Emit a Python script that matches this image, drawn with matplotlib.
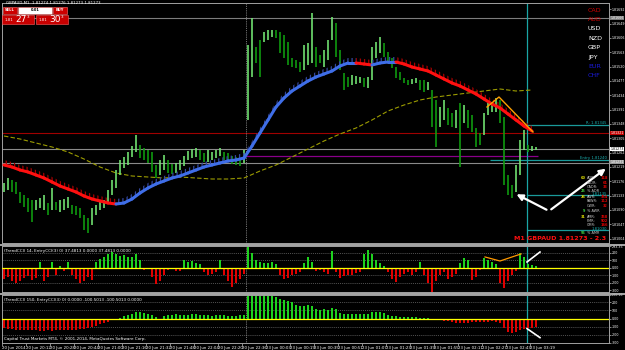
import numpy as np
import matplotlib.pyplot as plt
from matplotlib.patches import Rectangle

plt.rcParams['hatch.linewidth'] = 0.9

# ---- price bars (M1 GBPAUD), one value per bar ----
bar_hi = [1.81171, 1.81186, 1.81180, 1.81174, 1.81144, 1.81135, 1.81126, 1.81120, 1.81120, 1.81126,
          1.81135, 1.81111, 1.81156, 1.81114, 1.81120, 1.81123, 1.81129, 1.81105, 1.81102, 1.81096,
          1.81075, 1.81066, 1.81096, 1.81105, 1.81114, 1.81120, 1.81150, 1.81180, 1.81210, 1.81240,
          1.81249, 1.81264, 1.81282, 1.81315, 1.81285, 1.81276, 1.81270, 1.81264, 1.81225, 1.81240,
          1.81255, 1.81240, 1.81228, 1.81231, 1.81240, 1.81252, 1.81267, 1.81273, 1.81276, 1.81270,
          1.81261, 1.81270, 1.81264, 1.81270, 1.81276, 1.81264, 1.81261, 1.81252, 1.81249, 1.81246,
          1.81270, 1.81585, 1.81666, 1.81579, 1.81600, 1.81624, 1.81630, 1.81630, 1.81630, 1.81624,
          1.81615, 1.81594, 1.81546, 1.81540, 1.81534, 1.81585, 1.81591, 1.81681, 1.81579, 1.81555,
          1.81570, 1.81600, 1.81669, 1.81651, 1.81570, 1.81501, 1.81489, 1.81495, 1.81492, 1.81489,
          1.81486, 1.81489, 1.81579, 1.81594, 1.81609, 1.81591, 1.81564, 1.81546, 1.81519, 1.81504,
          1.81486, 1.81480, 1.81483, 1.81486, 1.81480, 1.81480, 1.81474, 1.81450, 1.81420, 1.81399,
          1.81420, 1.81396, 1.81381, 1.81390, 1.81411, 1.81405, 1.81390, 1.81375, 1.81336, 1.81321,
          1.81381, 1.81411, 1.81408, 1.81426, 1.81420, 1.81369, 1.81195, 1.81165, 1.81225, 1.81300,
          1.81330, 1.81285, 1.81282, 1.81279]
bar_lo = [1.81144, 1.81150, 1.81144, 1.81138, 1.81111, 1.81099, 1.81084, 1.81054, 1.81090, 1.81096,
          1.81090, 1.81075, 1.81090, 1.81090, 1.81084, 1.81090, 1.81096, 1.81078, 1.81075, 1.81066,
          1.81030, 1.81021, 1.81045, 1.81075, 1.81090, 1.81096, 1.81111, 1.81135, 1.81156, 1.81195,
          1.81216, 1.81225, 1.81249, 1.81264, 1.81246, 1.81240, 1.81231, 1.81204, 1.81186, 1.81195,
          1.81210, 1.81201, 1.81198, 1.81201, 1.81210, 1.81222, 1.81240, 1.81246, 1.81249, 1.81240,
          1.81234, 1.81234, 1.81240, 1.81246, 1.81252, 1.81240, 1.81237, 1.81228, 1.81225, 1.81222,
          1.81231, 1.81360, 1.81489, 1.81531, 1.81489, 1.81594, 1.81600, 1.81609, 1.81606, 1.81561,
          1.81546, 1.81525, 1.81519, 1.81516, 1.81504, 1.81510, 1.81525, 1.81531, 1.81519, 1.81531,
          1.81519, 1.81540, 1.81600, 1.81549, 1.81510, 1.81450, 1.81459, 1.81465, 1.81468, 1.81471,
          1.81459, 1.81456, 1.81480, 1.81546, 1.81561, 1.81549, 1.81531, 1.81516, 1.81486, 1.81480,
          1.81471, 1.81465, 1.81468, 1.81471, 1.81450, 1.81444, 1.81450, 1.81339, 1.81279, 1.81339,
          1.81360, 1.81345, 1.81339, 1.81336, 1.81219, 1.81351, 1.81336, 1.81324, 1.81279, 1.81285,
          1.81315, 1.81375, 1.81384, 1.81384, 1.81351, 1.81165, 1.81135, 1.81126, 1.81144, 1.81195,
          1.81270, 1.81264, 1.81267, 1.81270]

# fast MA (colour changing), read every 2nd bar
ma_fast = [1.81225, 1.81219, 1.81210, 1.81204, 1.81195, 1.81186, 1.81174, 1.81162, 1.81153, 1.81144,
           1.81132, 1.81123, 1.81117, 1.81111, 1.81108, 1.81111, 1.81123, 1.81141, 1.81156, 1.81168,
           1.81177, 1.81186, 1.81192, 1.81201, 1.81210, 1.81219, 1.81225, 1.81231, 1.81237, 1.81240,
           1.81246, 1.81282, 1.81321, 1.81360, 1.81399, 1.81426, 1.81447, 1.81462, 1.81477, 1.81489,
           1.81498, 1.81507, 1.81522, 1.81531, 1.81531, 1.81528, 1.81525, 1.81531, 1.81534, 1.81534,
           1.81528, 1.81519, 1.81513, 1.81507, 1.81495, 1.81483, 1.81471, 1.81462, 1.81450, 1.81438,
           1.81423, 1.81408, 1.81396, 1.81378, 1.81360, 1.81342, 1.81327]
# slow MA (olive dashed), read every 4th bar
ma_slow = [1.81312, 1.81303, 1.81291, 1.81279, 1.81264, 1.81243, 1.81219, 1.81201, 1.81192, 1.81189,
           1.81186, 1.81189, 1.81186, 1.81183, 1.81183, 1.81186, 1.81207, 1.81225, 1.81249, 1.81273,
           1.81297, 1.81318, 1.81336, 1.81360, 1.81387, 1.81405, 1.81420, 1.81429, 1.81435, 1.81441,
           1.81447, 1.81453, 1.81447, 1.81450]

# TrendCCI 14 and TrendCCI 150, one value per bar
cci14 = [-150, -120, -180, -200, -170, -140, -110, -160, -130, 80,
         -180, -120, 80, -100, 30, -40, 80, -100, -150, -200,
         -180, -120, -160, 80, 120, 150, 180, 210, 190, 160,
         170, 140, 150, 180, 100, -30, -20, -120, -220, -180,
         -100, -30, -20, -40, -40, 100, 80, 90, 70, 50,
         -50, -100, -80, -60, 100, -100, -180, -250, -200, -150,
         -80, 300, 200, 100, 80, 60, 70, 80, 50, -100,
         -150, -130, -100, -80, -60, 60, 150, 80, -40, -30,
         -50, -80, 230, -60, -130, -110, -100, -90, -70, -60,
         180, 240, 180, 100, 60, 30, -60, -150, -190, -120,
         -80, -60, -100, -50, 80, -100, -200, -320, -180, -100,
         -60, -150, -120, -80, 60, 130, 110, -160, -120, -30,
         130, 100, 80, 50, -200, -270, -180, -100, -40, 200,
         150, 50, 40, 30]
cci150 = [-120, -125, -130, -135, -140, -140, -145, -145, -145, -150,
          -150, -145, -150, -145, -140, -145, -140, -135, -140, -130,
          -125, -120, -100, -85, -70, -60, -40, -20, -10, 10,
          30, 45, 60, 80, 85, 70, 55, 40, 20, -10,
          30, 40, 50, 55, 45, 40, 50, 55, 60, 50,
          45, 40, 35, 45, 50, 40, 35, 30, 35, 45,
          40, 290, 285, 290, 280, 285, 275, 280, 270, 240,
          230, 220, 210, 170, 160, 150, 165, 150, 120, 110,
          115, 110, 130, 120, 70, 60, 60, 55, 60, 60,
          55, 60, 80, 85, 75, 70, 40, 35, 30, 25,
          20, 20, 15, 15, 10, 5, 5, -10, -20, -20,
          -25, -35, -40, -50, -55, -60, -55, -45, -40, -40,
          -45, -40, -35, -40, -50, -120, -170, -180, -160, -140,
          -130, -120, -110, -100]

# levels on the price chart
day_high = 1.81666
red_level = 1.81321
bid = 1.81273
purple_level = 1.81252
gray_level = 1.81231
teal_levels = [1.81345, 1.81240, 1.81135, 1.81030]
teal_names = ['R: 1.81345', 'Entry 1.81240', '1.81135', '1.81030']

time_labels = ['20 Jun 2014', '20 Jun 20:12', '20 Jun 20:28', '20 Jun 20:44', '20 Jun 21:00',
               '20 Jun 21:16', '20 Jun 21:32', '20 Jun 21:48', '20 Jun 22:04', '20 Jun 22:20',
               '20 Jun 22:36', '23 Jun 00:03', '23 Jun 00:19', '23 Jun 00:35', '23 Jun 00:51',
               '23 Jun 01:07', '23 Jun 01:23', '23 Jun 01:39', '23 Jun 01:55', '23 Jun 02:11',
               '23 Jun 02:27', '23 Jun 02:43', '23 Jun 03:19']

currencies = ['CAD', 'AUD', 'USD', 'NZD', 'GBP', 'JPY', 'EUR', 'CHF']
currency_colors = ['#d00000', '#d00000', 'white', 'white', 'white', 'white', '#1a1ad8', '#1a1ad8']

adr_rows = [('60', 'ADR:', '118'), ('', 'PADR:', '61'), ('', 'CADR:', '33'), ('25', '% ADR', ''),
            ('26', 'AWR:', '354'), ('', 'PAWR:', '112'), ('', 'CWR:', '32'), ('9', '% AWR', ''),
            ('31', 'AMR:', '358'), ('', 'PMR:', '502'), ('', 'CMR:', '166'), ('55', '% AMR', '')]

# ---- figure ----
W, H = 625, 350
fig = plt.figure(figsize=(W / 100, H / 100), dpi=100, facecolor='black')
XMAX = 151.25
FS = 2.7   # size of the tiny terminal texts
AX_FS = 2.35  # price scale labels, they must fit in the right margin


def panel(y0, y1):
    ax = fig.add_axes([2 / W, 1 - y1 / H, 607 / W, (y1 - y0) / H], facecolor='black')
    ax.set_xlim(-0.5, XMAX)
    ax.yaxis.tick_right()
    ax.tick_params(axis='y', colors='#bdbdbd', labelcolor='white', labelsize=AX_FS,
                   length=1.5, width=0.5, pad=0.4)
    ax.tick_params(axis='x', bottom=False, labelbottom=False)
    for s in ax.spines.values():
        s.set_color('#a0a0a0')
        s.set_linewidth(0.7)
    return ax


main = panel(3, 243)
ind1 = panel(246, 292)
ind2 = panel(295, 343)

n = len(bar_hi)
idx = np.arange(n)
hi = np.array(bar_hi)
lo = np.array(bar_lo)

# price panel
main.set_ylim(1.80991, 1.81711)
ticks = 1.81692 - 0.00043 * np.arange(17)
main.set_yticks(ticks)
main.set_yticklabels([f'{t:.5f}' for t in ticks])

for lvl, col in [(day_high, '#7d7d7d'), (red_level, '#a00000'), (bid, '#8a8a8a'), (gray_level, '#8a8a8a')]:
    main.axhline(lvl, color=col, lw=0.8, zorder=1)
main.hlines(purple_level, 60.5, n - 0.5, color='#8a008a', lw=0.9, zorder=1)
for k, lvl in enumerate(teal_levels):
    x0 = 121.5 if k == 1 else 130.75
    main.hlines(lvl, x0, XMAX, color='#1a9a9a', lw=0.9, zorder=1)

mid = (hi + lo) / 2
up = np.r_[True, mid[1:] >= mid[:-1]]
main.vlines(idx, lo, hi, colors=np.where(up, '#74e874', '#10a010'), lw=1.15, zorder=3)

slow_idx = np.arange(0, n, 4)
main.plot(slow_idx, ma_slow, color='#9c9c00', lw=0.8, ls=(0, (4, 2)), zorder=2)

fast_idx = np.arange(0, n, 2)
ma = np.array(ma_fast)
rising = True
for k in range(len(ma) - 1):
    if ma[k + 1] != ma[k]:
        rising = ma[k + 1] > ma[k]
    line_c, hatch_c = ('#3f6ee8', '#34479e') if rising else ('#ff1010', '#a80000')
    main.fill_between(fast_idx[k:k + 2], ma[k:k + 2], ma[k:k + 2] + 0.00015,
                      facecolor='none', edgecolor=hatch_c, hatch='||||', lw=0, zorder=4)
    main.plot(fast_idx[k:k + 2], ma[k:k + 2], color=line_c, lw=2.2,
              solid_capstyle='round', zorder=5)

main.plot([120.75, 123.75, 132.25], [1.81399, 1.81429, 1.81324], color='#ffa000', lw=1, zorder=6)

arrow = dict(arrowstyle='-|>', color='white', lw=1.6, mutation_scale=9)
main.annotate('', xy=(127.5, 1.81141), xytext=(136.25, 1.81087), arrowprops=arrow, annotation_clip=False)
main.annotate('', xy=(151, 1.81219), xytext=(136.25, 1.81087), arrowprops=arrow, annotation_clip=False)

# indicator panels
green, red = '#1ed21e', '#e00000'
for ax, vals, lim, tks, tls in [
        (ind1, cci14, (-320, 293), [293, 200, 100, 0, -100, -200, -300],
         ['293.35', '200', '100', '0.00', '-100', '-200', '-300']),
        (ind2, cci150, (-300, 290), [290, 200, 100, 0, -100, -200, -300],
         ['290.16', '200', '100', '0.00', '-100', '-200', '-300'])]:
    v = np.array(vals)
    ax.set_ylim(*lim)
    ax.set_yticks(tks)
    ax.set_yticklabels(tls)
    for lv in [200, 100, -100, -200]:
        ax.axhline(lv, color='#707070', lw=0.5, ls=(0, (1.5, 1.5)), zorder=1)
    ax.bar(idx, v, width=0.6, color=np.where(v > 0, green, red), zorder=2)
    ax.axhline(0, color='#ffff00', lw=0.9, zorder=3)

ind1.plot([120.25, 124, 129.25], [147, 93, 187], color='#ff9900', lw=0.9, zorder=4)
ind1.plot([130.75, 134], [80, 213], color='white', lw=1.2, zorder=4)
ind2.plot([130.75, 134], [-123, -234], color='white', lw=1.2, zorder=4)

for ax in (main, ind1, ind2):
    ax.axvline(60.5, color='#9a9a9a', lw=0.6, ls=(0, (1, 1.2)), zorder=1)
    ax.axvline(130.75, color='#1aa6a6', lw=0.9, zorder=1)

ind2.set_xticks(-0.5 + 6 * np.arange(len(time_labels)))
ind2.set_xticklabels(time_labels, ha='left')
ind2.tick_params(axis='x', bottom=True, labelbottom=True, labelsize=2.8, length=2,
                 width=0.5, colors='#bdbdbd', labelcolor='white', pad=0.5)

ind1.text(0.003, 0.93, '(TrendCCI) 14, EntryCCI(3) 0) 37.4813 0.0000 37.4813 0.0000',
          transform=ind1.transAxes, color='white', fontsize=3, va='top')
ind2.text(0.003, 0.93, '(TrendCCI) 150, EntryCCI(3) 0) 0.0000 -100.5013 -100.5013 0.0000',
          transform=ind2.transAxes, color='white', fontsize=3, va='top')
ind2.text(0.003, 0.05, 'Capital Trust Markets MT4, \u00a9 2001-2014, MetaQuotes Software Corp.',
          transform=ind2.transAxes, color='white', fontsize=3, va='bottom')

# ---- overlay in pixel coordinates for labels and the trade panel ----
ov = fig.add_axes([0, 0, 1, 1], zorder=10)
ov.set_xlim(0, W)
ov.set_ylim(H, 0)
ov.axis('off')
ov.patch.set_alpha(0)

ov.plot([0, W], [244.5, 244.5], color='#b4b4b4', lw=1.3)
ov.plot([0, W], [293.5, 293.5], color='#b4b4b4', lw=1.3)

ov.text(6, 3.5, 'GBPAUD,M1  1.81274 1.81276 1.81273 1.81273', color='white', fontsize=2.8, va='center')
for x0, w, fc, txt, tc in [(3, 14, '#cc0000', 'SELL', 'white'), (18, 34, 'white', '0.01', 'black'),
                           (53, 14, '#cc0000', 'BUY', 'white')]:
    ov.add_patch(Rectangle((x0, 7), w, 6.5, fc=fc, ec='#ff7070', lw=0.4))
    ov.text(x0 + w / 2, 10.3, txt, color=tc, fontsize=2.6, ha='center', va='center', weight='bold')
for x0, big in [(2, '27'), (36, '30')]:
    ov.add_patch(Rectangle((x0, 14.5), 32, 9.5, fc='#c80000', ec='#ff6060', lw=0.4))
    ov.text(x0 + 3, 20, '1.81', color='white', fontsize=2.8, va='center')
    ov.text(x0 + 13, 19.5, big, color='white', fontsize=6.5, va='center')
    ov.text(x0 + 25, 16.8, '3', color='white', fontsize=3, va='center')

for k, (cur, col) in enumerate(zip(currencies, currency_colors)):
    ov.text(588, 10 + 9.4 * k, cur, color=col, fontsize=4.6, va='center')

for y, txt, fc, tc in [(18, f'{day_high:.5f}', '#7d7d7d', 'white'), (133, f'{red_level:.5f}', '#c00000', 'white'),
                       (149, f'{bid:.5f}', 'white', 'black'), (162, f'{gray_level:.5f}', '#9a9a9a', 'white')]:
    ov.text(610.3, y, txt, color=tc, fontsize=AX_FS, va='center',
            bbox=dict(boxstyle='square,pad=0.12', fc=fc, ec='none'))

for lvl_y, name in zip([123, 158, 194, 229], teal_names):
    ov.text(607, lvl_y, name, color='#1ab0b0', fontsize=FS, ha='right', va='center')

row_y = [178, 182.5, 187, 191.5, 197, 201.5, 206, 211.5, 216.5, 221, 225.3, 233]
for y, (num, lab, val) in zip(row_y, adr_rows):
    pct = lab.startswith('%')
    if num:
        ov.text(585.5, y, num, color='#40d040' if pct else '#d8d800',
                fontsize=2.5, va='center', ha='right', weight='bold')
    ov.text(587, y, lab, color='#c8c8c8', fontsize=2.5, va='center')
    if val:
        ov.text(608, y, val, color='#e00000', fontsize=2.5, va='center', ha='right', weight='bold')

ov.text(606, 238.5, 'M1 GBPAUD 1.81273 - 2.3', color='#ff1010', fontsize=4.6, ha='right',
        va='center', weight='bold')

fig.savefig('out.png', dpi=100, facecolor='black')
